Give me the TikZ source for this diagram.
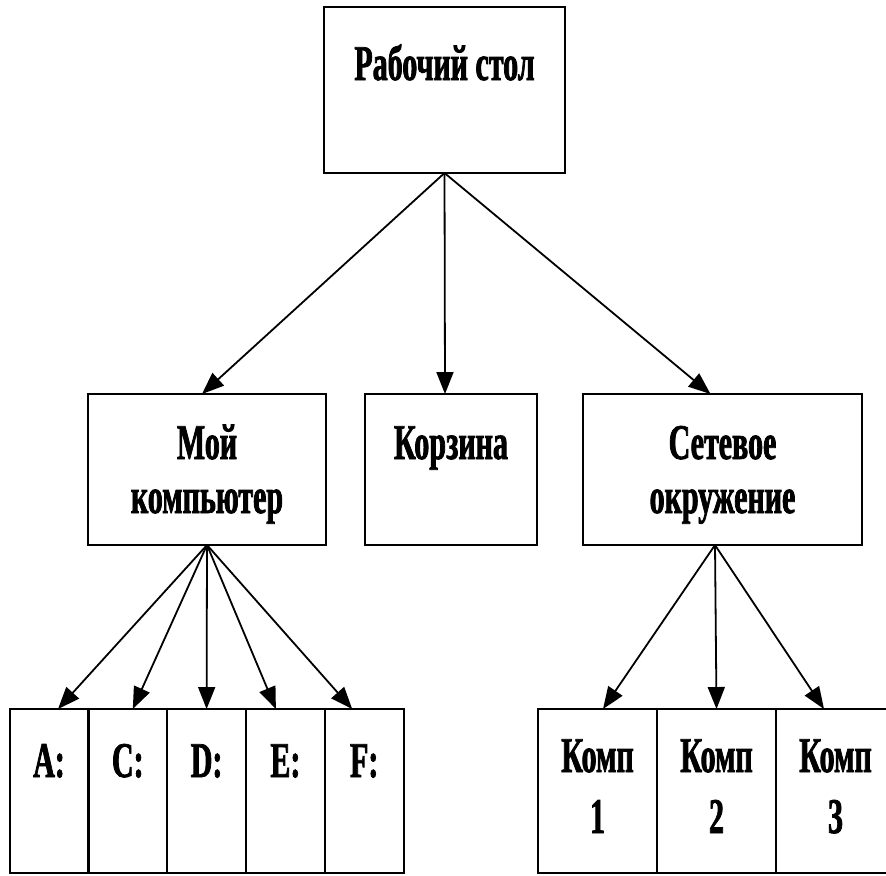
\documentclass[tikz,border=0pt]{standalone}
\usepackage{fontspec}
\setmainfont[FakeStretch=0.6,BoldFeatures={FakeBold=1.5}]{Liberation Serif}
\usetikzlibrary{arrows.meta}
\usetikzlibrary{positioning}

\begin{document}
\begin{tikzpicture}[x=0.5pt,y=-0.5pt]
\tikzstyle{box}=[draw,line width=1.1pt,inner sep=0pt,outer sep=0pt,anchor=north,align=center,text height=32.5pt,text depth=43pt,font=\bfseries\fontsize{25}{27}\selectfont]
\tikzstyle{twoline}=[box,text height=59.5pt,text depth=16pt]
\tikzstyle{drive}=[box,minimum width=39.4pt,text height=34pt,text depth=48pt]
\tikzstyle{comp}=[box,minimum width=59.5pt,text height=62pt,text depth=20pt,font=\bfseries\fontsize{25}{30.5}\selectfont]
\tikzstyle{link}=[line width=0.9pt,-{Triangle[length=11pt,width=8.5pt]}]
\useasboundingbox (0,0) rectangle (886,875);
\node[box,minimum width=120.5pt,text height=36.5pt,text depth=46.5pt] (desk) at (444.5,7) {Рабочий стол};
\node[twoline,minimum width=119pt] (mycomp) at (207,394) {Мой\\компьютер};
\node[box,minimum width=86pt] (trash) at (451,394) {Корзина};
\node[twoline,minimum width=139.5pt] (net) at (722.5,394) {Сетевое\\окружение};
\node[drive] (a) at (49,709) {A:};
\node[drive,right=0pt of a] (c) {C:};
\node[drive,right=0pt of c] (d) {D:};
\node[drive,right=0pt of d] (e) {E:};
\node[drive,right=0pt of e] (f) {F:};
\node[comp] (k1) at (597.5,709) {Комп\\1};
\node[comp,right=0pt of k1] (k2) {Комп\\2};
\node[comp,right=0pt of k2] (k3) {Комп\\3};
\draw[link] (desk.south) -- ([xshift=-2.5pt]mycomp.north);
\draw[link] (desk.south) -- ([xshift=-3pt]trash.north);
\draw[link] (desk.south) -- ([xshift=-6pt]net.north);
\foreach \n/\s in {a/4.5,c/2.5,d/0,e/-4.75,f/-6}
  \draw[link] (mycomp.south) -- ([xshift=\s pt]\n.north);
\foreach \n/\s in {k1/2.75,k2/0,k3/-5.75}
  \draw[link] ([xshift=-3.75pt]net.south) -- ([xshift=\s pt]\n.north);
\end{tikzpicture}
\end{document}
